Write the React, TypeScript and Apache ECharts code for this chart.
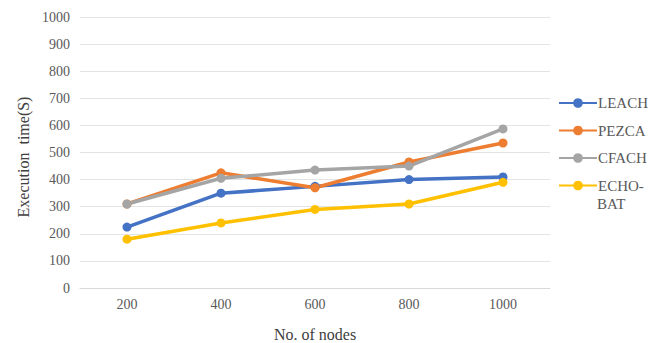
import React, { useEffect, useRef } from "react";
import * as echarts from "echarts";

const categories = ["200", "400", "600", "800", "1000"];
const leach = [225, 350, 375, 400, 410];
const pezca = [310, 425, 370, 465, 535];
const cfach = [310, 405, 435, 450, 587];
const echoBat = [180, 240, 290, 310, 390];
const seriesNames = ["LEACH", "PEZCA", "CFACH", "ECHO-BAT"];
const colors = ["#4472C4", "#ED7D31", "#A5A5A5", "#FFC000"];

export default function App() {
  const ref = useRef<HTMLDivElement>(null);
  useEffect(() => {
    if (!ref.current) return;
    const chart = echarts.init(ref.current, null, { renderer: "svg" });
    const font = "'Liberation Serif', 'Times New Roman', serif";
    const datasets = [leach, pezca, cfach, echoBat];
    chart.setOption({
      animation: false,
      backgroundColor: "#ffffff",
      textStyle: { fontFamily: font },
      grid: { left: 80, right: 105, top: 17, bottom: 55, outerBoundsMode: "none", containLabel: false },
      legend: {
        orient: "vertical",
        left: 553,
        top: 89,
        itemWidth: 38,
        itemHeight: 12,
        itemGap: 9.5,
        data: seriesNames,
        formatter: (n: string) => (n === "ECHO-BAT" ? "ECHO-" : n),
        textStyle: { fontFamily: font, fontSize: 15, color: "#595959", lineHeight: 18, padding: [0, 0, 0, -4] },
      },
      graphic: [
        {
          type: "text",
          left: 597,
          top: 196,
          style: { text: "BAT", fontFamily: font, fontSize: 15, fill: "#595959" },
        },
      ],
      xAxis: {
        type: "category",
        data: categories,
        name: "No. of nodes",
        nameLocation: "middle",
        nameGap: 38,
        nameTextStyle: { fontFamily: font, fontSize: 16, color: "#404040" },
        axisLine: { lineStyle: { color: "#d9d9d9", width: 1 } },
        axisTick: { show: false },
        axisLabel: { fontFamily: font, fontSize: 14, color: "#595959", margin: 9 },
      },
      yAxis: {
        type: "value",
        min: 0,
        max: 1000,
        interval: 100,
        name: "Execution  time(S)",
        nameLocation: "middle",
        nameGap: 49,
        nameTextStyle: { fontFamily: font, fontSize: 16, color: "#404040", padding: [0, 9, 0, 0] },
        axisLine: { show: false },
        axisTick: { show: false },
        splitLine: { lineStyle: { color: "#e3e3e3", width: 1 } },
        axisLabel: {
          fontFamily: font,
          fontSize: 14,
          color: "#595959",
          margin: 10,
          formatter: (v: number) => String(v),
        },
      },
      series: seriesNames.map((name, i) => ({
        name,
        type: "line",
        data: datasets[i],
        symbol: "circle",
        symbolSize: 9,
        color: colors[i],
        lineStyle: { width: 3.5, color: colors[i] },
        itemStyle: { color: colors[i] },
      })),
    });
    return () => chart.dispose();
  }, []);
  return <div ref={ref} style={{ width: 655, height: 343, position: "absolute", left: 0, top: 0 }} />;
}
